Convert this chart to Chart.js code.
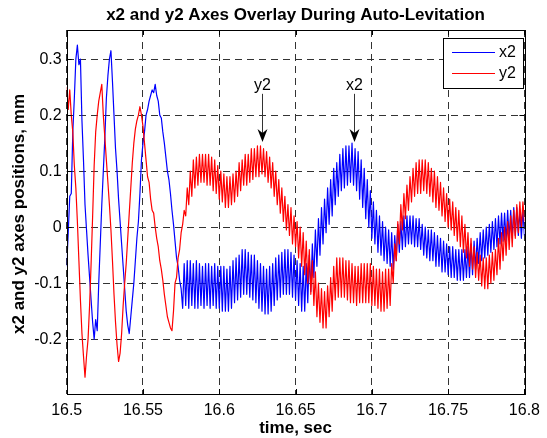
<!DOCTYPE html>
<html>
<head>
<meta charset="utf-8">
<title>x2 and y2 Axes Overlay During Auto-Levitation</title>
<script src="https://cdn.jsdelivr.net/npm/chart.js@4.4.1/dist/chart.umd.min.js"></script>
<style>
  html, body { margin: 0; padding: 0; background: #fff; }
  canvas { display: block; }
</style>
</head>
<body>
<canvas id="graficoLevitacao" width="547" height="438"></canvas>
<script>
// sampling grid of the recorded signals (sec)
const sampleStart = 16.5;
const sampleStep = 0.001;

// x2 axis position, mm
const x2Values = [
  -0.07, -0.01, 0.055, 0.06, 0.17, 0.23, 0.3, 0.325, 0.29, 0.3,
  0.19, 0.12, 0.04, -0.005, -0.05, -0.09, -0.13, -0.17, -0.2, -0.165,
  -0.185, -0.1, -0.03, 0.04, 0.1, 0.16, 0.23, 0.27, 0.3, 0.315,
  0.26, 0.2, 0.14, 0.1, 0.05, 0.01, -0.03, -0.07, -0.11, -0.15,
  -0.175, -0.19, -0.16, -0.13, -0.1, -0.06, -0.02, 0.01, 0.06, 0.12,
  0.15, 0.17, 0.2, 0.21, 0.225, 0.235, 0.245, 0.24, 0.255, 0.235,
  0.225, 0.2, 0.195, 0.17, 0.15, 0.125, 0.1, 0.085, 0.06, 0.03,
  0.005, -0.025, -0.055, -0.07, -0.095, -0.11, -0.145, -0.065, -0.14, -0.06,
  -0.145, -0.06, -0.14, -0.065, -0.145, -0.06, -0.145, -0.065, -0.14, -0.07,
  -0.145, -0.065, -0.14, -0.065, -0.145, -0.07, -0.14, -0.065, -0.145, -0.07,
  -0.145, -0.07, -0.15, -0.07, -0.15, -0.075, -0.15, -0.07, -0.145, -0.06,
  -0.135, -0.055, -0.13, -0.05, -0.125, -0.04, -0.12, -0.04, -0.12, -0.045,
  -0.125, -0.05, -0.13, -0.05, -0.135, -0.06, -0.145, -0.065, -0.15, -0.07,
  -0.155, -0.075, -0.155, -0.07, -0.15, -0.065, -0.14, -0.055, -0.13, -0.05,
  -0.125, -0.045, -0.12, -0.04, -0.12, -0.04, -0.12, -0.045, -0.125, -0.05,
  -0.13, -0.06, -0.14, -0.065, -0.15, -0.07, -0.15, -0.065, -0.135, -0.05,
  -0.115, -0.03, -0.09, -0.005, -0.07, 0.015, -0.05, 0.035, -0.03, 0.05,
  -0.01, 0.07, 0.005, 0.085, 0.02, 0.105, 0.04, 0.115, 0.055, 0.13,
  0.065, 0.14, 0.07, 0.145, 0.075, 0.145, 0.08, 0.15, 0.075, 0.14,
  0.065, 0.135, 0.05, 0.12, 0.035, 0.105, 0.015, 0.085, 0.0, 0.065,
  -0.02, 0.045, -0.03, 0.03, -0.045, 0.02, -0.05, 0.01, -0.06, 0.0,
  -0.065, -0.005, -0.07, -0.01, -0.075, -0.015, -0.06, 0.005, -0.045, 0.01,
  -0.04, 0.02, -0.035, 0.02, -0.03, 0.02, -0.03, 0.02, -0.035, 0.015,
  -0.035, 0.015, -0.04, 0.005, -0.05, 0.0, -0.055, -0.005, -0.06, -0.005,
  -0.06, -0.01, -0.07, -0.015, -0.07, -0.02, -0.08, -0.025, -0.08, -0.03,
  -0.085, -0.035, -0.09, -0.035, -0.09, -0.04, -0.095, -0.04, -0.095, -0.04,
  -0.095, -0.04, -0.09, -0.035, -0.09, -0.03, -0.085, -0.025, -0.075, -0.02,
  -0.065, -0.01, -0.06, -0.005, -0.055, 0.0, -0.05, 0.005, -0.045, 0.01,
  -0.04, 0.015, -0.035, 0.02, -0.03, 0.025, -0.025, 0.025, -0.025, 0.03,
  -0.02, 0.03, -0.02, 0.035, -0.015, 0.035, -0.015, 0.03, -0.02, 0.03,
  -0.015
];

// y2 axis position, mm
const y2Values = [
  0.25, 0.21, 0.245, 0.2, 0.17, 0.11, 0.07, 0.01, -0.06, -0.13,
  -0.19, -0.23, -0.268, -0.23, -0.2, -0.14, -0.065, 0.02, 0.11, 0.17,
  0.2, 0.225, 0.24, 0.255, 0.2, 0.16, 0.12, 0.08, 0.04, -0.005,
  -0.06, -0.12, -0.17, -0.21, -0.24, -0.225, -0.19, -0.14, -0.1, -0.065,
  -0.02, 0.025, 0.07, 0.115, 0.15, 0.175, 0.19, 0.2, 0.215, 0.2,
  0.18, 0.15, 0.12, 0.09, 0.08, 0.05, 0.03, 0.025, 0.0, -0.02,
  -0.035, -0.06, -0.075, -0.095, -0.12, -0.14, -0.16, -0.17, -0.18, -0.185,
  -0.15, -0.1, -0.09, -0.055, -0.04, -0.01, 0.005, 0.03, 0.02, 0.07,
  0.04, 0.1, 0.055, 0.12, 0.07, 0.125, 0.075, 0.13, 0.08, 0.13,
  0.08, 0.13, 0.075, 0.13, 0.075, 0.125, 0.065, 0.12, 0.06, 0.11,
  0.05, 0.1, 0.045, 0.095, 0.035, 0.09, 0.035, 0.09, 0.04, 0.095,
  0.045, 0.1, 0.055, 0.115, 0.065, 0.12, 0.075, 0.13, 0.075, 0.13,
  0.08, 0.14, 0.085, 0.14, 0.09, 0.145, 0.09, 0.145, 0.095, 0.14,
  0.09, 0.135, 0.08, 0.125, 0.07, 0.115, 0.055, 0.1, 0.04, 0.085,
  0.025, 0.07, 0.01, 0.055, -0.005, 0.04, -0.015, 0.035, -0.03, 0.02,
  -0.035, 0.01, -0.055, 0.0, -0.07, -0.01, -0.085, -0.025, -0.1, -0.04,
  -0.12, -0.06, -0.14, -0.08, -0.16, -0.1, -0.17, -0.11, -0.18, -0.115,
  -0.18, -0.105, -0.16, -0.09, -0.15, -0.07, -0.13, -0.055, -0.125, -0.055,
  -0.125, -0.055, -0.125, -0.06, -0.13, -0.06, -0.135, -0.065, -0.135, -0.07,
  -0.14, -0.07, -0.135, -0.065, -0.135, -0.065, -0.135, -0.065, -0.135, -0.065,
  -0.14, -0.07, -0.14, -0.075, -0.145, -0.075, -0.15, -0.08, -0.15, -0.075,
  -0.145, -0.075, -0.14, -0.065, -0.1, -0.03, -0.06, 0.01, -0.03, 0.04,
  -0.005, 0.06, 0.015, 0.075, 0.03, 0.09, 0.045, 0.105, 0.055, 0.115,
  0.06, 0.12, 0.06, 0.12, 0.065, 0.12, 0.06, 0.115, 0.055, 0.105,
  0.045, 0.1, 0.035, 0.09, 0.03, 0.08, 0.02, 0.07, 0.01, 0.06,
  0.0, 0.05, -0.005, 0.045, -0.015, 0.035, -0.025, 0.03, -0.035, 0.02,
  -0.045, 0.005, -0.055, -0.01, -0.07, -0.02, -0.075, -0.035, -0.09, -0.045,
  -0.095, -0.05, -0.105, -0.055, -0.11, -0.055, -0.11, -0.05, -0.1, -0.045,
  -0.095, -0.04, -0.085, -0.02, -0.075, -0.01, -0.06, 0.0, -0.05, 0.01,
  -0.04, 0.02, -0.035, 0.03, -0.02, 0.04, -0.01, 0.045, 0.0, 0.045,
  0.01
];

const xTickValues = [16.5, 16.55, 16.6, 16.65, 16.7, 16.75, 16.8];
const xTickLabels = ['16.5', '16.55', '16.6', '16.65', '16.7', '16.75', '16.8'];
const yTickValues = [-0.2, -0.1, 0, 0.1, 0.2, 0.3];
const yTickLabels = ['-0.2', '-0.1', '0', '0.1', '0.2', '0.3'];

// arrows pointing at the peaks
const arrowNotes = [
  { text: 'y2', time: 16.628, labelAt: 0.252, from: 0.238, to: 0.152 },
  { text: 'x2', time: 16.688, labelAt: 0.252, from: 0.238, to: 0.152 }
];

document.addEventListener('DOMContentLoaded', () => {
    const ctx = document.getElementById('graficoLevitacao').getContext('2d');
    const FONT = '"Liberation Sans", Arial, Helvetica, sans-serif';

    const toPoints = values => values.map((v, i) => ({ x: sampleStart + i * sampleStep, y: v }));

    // matlab look: box, inner ticks, titles, arrows, legend
    const matlabLook = {
        id: 'matlabLook',
        afterDatasetsDraw(chart) {
            const { ctx, chartArea: a, scales: { x, y } } = chart;
            ctx.save();
            ctx.strokeStyle = '#000';
            ctx.lineWidth = 1;
            ctx.setLineDash([]);
            ctx.beginPath();
            xTickValues.forEach(v => {
                const px = Math.round(x.getPixelForValue(v)) + 0.5;
                ctx.moveTo(px, a.bottom); ctx.lineTo(px, a.bottom - 5);
                ctx.moveTo(px, a.top); ctx.lineTo(px, a.top + 5);
            });
            yTickValues.forEach(v => {
                const py = Math.round(y.getPixelForValue(v)) + 0.5;
                ctx.moveTo(a.left, py); ctx.lineTo(a.left + 5, py);
                ctx.moveTo(a.right, py); ctx.lineTo(a.right - 5, py);
            });
            ctx.stroke();
            ctx.strokeRect(Math.round(a.left) + 0.5, Math.round(a.top) + 0.5,
                Math.round(a.right - a.left), Math.round(a.bottom - a.top));

            // arrows
            ctx.fillStyle = '#000';
            ctx.font = '16px ' + FONT;
            ctx.textAlign = 'center';
            ctx.textBaseline = 'middle';
            arrowNotes.forEach(n => {
                const px = Math.round(x.getPixelForValue(n.time)) + 0.5;
                const yText = y.getPixelForValue(n.labelAt);
                const yFrom = y.getPixelForValue(n.from);
                const yTo = y.getPixelForValue(n.to);
                ctx.fillText(n.text, px, yText);
                ctx.strokeStyle = '#333';
                ctx.beginPath();
                ctx.moveTo(px, yFrom);
                ctx.lineTo(px, yTo - 8);
                ctx.stroke();
                ctx.beginPath();
                ctx.moveTo(px, yTo);
                ctx.lineTo(px - 5, yTo - 13);
                ctx.lineTo(px, yTo - 9);
                ctx.lineTo(px + 5, yTo - 13);
                ctx.closePath();
                ctx.fill();
            });

            // legend
            ctx.fillStyle = '#fff';
            ctx.fillRect(443.5, 38.5, 80, 50);
            ctx.strokeStyle = '#000';
            ctx.strokeRect(443.5, 38.5, 80, 50);
            ctx.textAlign = 'left';
            chart.data.datasets.forEach((ds, i) => {
                const ly = 52.5 + i * 21;
                ctx.strokeStyle = ds.borderColor;
                ctx.beginPath();
                ctx.moveTo(452, ly);
                ctx.lineTo(495, ly);
                ctx.stroke();
                ctx.fillStyle = '#000';
                ctx.fillText(ds.label, 499, ly);
            });

            // titles
            ctx.font = 'bold 17px ' + FONT;
            ctx.textAlign = 'center';
            ctx.fillText('x2 and y2 Axes Overlay During Auto-Levitation', (a.left + a.right) / 2, 15);
            ctx.fillText('time, sec', (a.left + a.right) / 2, 428);
            ctx.translate(19, 214);
            ctx.rotate(-Math.PI / 2);
            ctx.fillText('x2 and y2 axes positions, mm', 0, 0);
            ctx.restore();
        }
    };

    let grafico = new Chart(ctx, {
        type: 'line',
        data: {
            datasets: [{
                label: 'x2',
                data: toPoints(x2Values),
                borderColor: '#0000ff',
                borderWidth: 1.2,
                borderJoinStyle: 'round',
                pointRadius: 0,
                order: 2
            }, {
                label: 'y2',
                data: toPoints(y2Values),
                borderColor: '#ff0000',
                borderWidth: 1.2,
                borderJoinStyle: 'round',
                pointRadius: 0,
                order: 1
            }]
        },
        options: {
            responsive: false,
            animation: false,
            events: [],
            layout: { padding: { top: 30, right: 18, left: 0, bottom: 0 } },
            plugins: { legend: { display: false }, tooltip: { enabled: false } },
            scales: {
                x: {
                    type: 'linear',
                    min: 16.5,
                    max: 16.8,
                    afterFit: s => { s.height = 44; },
                    afterBuildTicks: s => { s.ticks = xTickValues.map(v => ({ value: v })); },
                    grid: { color: '#333', drawTicks: false },
                    border: { display: false, dash: [7, 5] },
                    ticks: {
                        padding: 7,
                        color: '#000',
                        font: { family: FONT, size: 16 },
                        maxRotation: 0,
                        callback: (v, i) => xTickLabels[i]
                    }
                },
                y: {
                    min: -0.298,
                    max: 0.352,
                    afterFit: s => { s.width = 66.7; },
                    afterBuildTicks: s => { s.ticks = yTickValues.map(v => ({ value: v })); },
                    grid: { color: '#333', drawTicks: false },
                    border: { display: false, dash: [7, 5] },
                    ticks: {
                        padding: 5,
                        color: '#000',
                        font: { family: FONT, size: 16 },
                        callback: (v, i) => yTickLabels[i]
                    }
                }
            }
        },
        plugins: [matlabLook]
    });
});
</script>
</body>
</html>
